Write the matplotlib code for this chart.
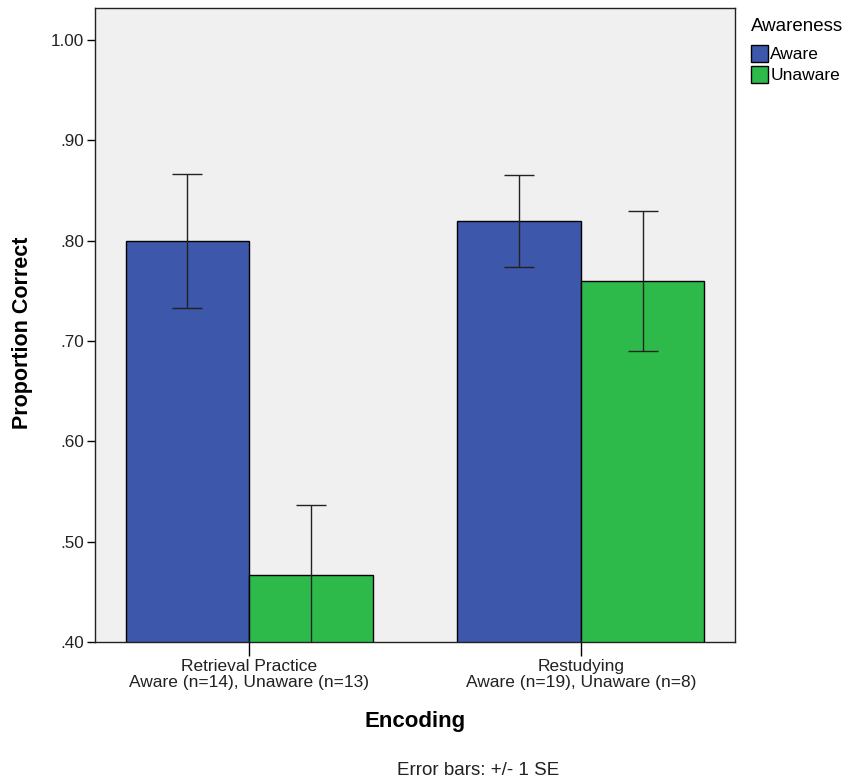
import matplotlib
matplotlib.use("Agg")
import matplotlib.pyplot as plt
import numpy as np
from matplotlib.patches import Patch

# Data
encoding = ["Retrieval Practice\nAware (n=14), Unaware (n=13)",
            "Restudying\nAware (n=19), Unaware (n=8)"]
groups = ["Aware", "Unaware"]
aware_mean = [0.800, 0.820]
aware_se = [0.067, 0.046]
unaware_mean = [0.467, 0.760]
unaware_se = [0.070, 0.070]
yticks = [0.40, 0.50, 0.60, 0.70, 0.80, 0.90, 1.00]
ytick_labels = [".40", ".50", ".60", ".70", ".80", ".90", "1.00"]

blue = "#3D57AB"
green = "#2DBA4B"
bg = "#F0F0F0"
ink = "#222222"

plt.rcParams["font.family"] = ["Liberation Sans", "DejaVu Sans"]

fig = plt.figure(figsize=(8.5, 7.8), dpi=100)
ax = fig.add_axes([0.1118, 0.1769, 0.7529, 0.8128])
ax.set_facecolor(bg)

x = np.arange(len(encoding))
w = 0.373
err_kw = dict(ecolor=ink, elinewidth=1.0, capthick=1.0)
ax.bar(x - w / 2, aware_mean, w, yerr=aware_se, capsize=11,
       color=blue, edgecolor="black", linewidth=1.0, error_kw=err_kw,
       label=groups[0], zorder=2)
ax.bar(x + w / 2, unaware_mean, w, yerr=unaware_se, capsize=11,
       color=green, edgecolor="black", linewidth=1.0, error_kw=err_kw,
       label=groups[1], zorder=2)

ax.set_ylim(0.40, 1.032)
ax.set_xlim(-0.465, 1.465)
ax.set_yticks(yticks)
ax.set_yticklabels(ytick_labels, fontsize=12.3, color=ink)
ax.set_xticks(x)
ax.set_xticklabels(encoding, fontsize=12.5, color=ink, linespacing=1.12)
ax.tick_params(axis="y", length=6, width=1, pad=2)
ax.tick_params(axis="x", length=10, width=1, pad=2)
for s in ax.spines.values():
    s.set_linewidth(1.0)
    s.set_color(ink)

ax.set_ylabel("Proportion Correct", fontsize=15.5, fontweight="bold",
              color="black", va="center")
ax.yaxis.set_label_coords(-0.114, 0.487)
ax.set_xlabel("Encoding", fontsize=16, fontweight="bold", color="black",
              va="center")
ax.xaxis.set_label_coords(0.5, -0.125)

handles = [Patch(facecolor=blue, edgecolor="black", label=groups[0]),
           Patch(facecolor=green, edgecolor="black", label=groups[1])]
leg = ax.legend(handles=handles, title="Awareness", loc="upper left",
                bbox_to_anchor=(1.009, 1.0), frameon=False, fontsize=12.5,
                title_fontsize=13.5, handlelength=0.95, handleheight=1.1,
                handletextpad=0.15, labelspacing=0.2, alignment="left",
                borderaxespad=0.3, borderpad=0.3)
leg._legend_box.sep = 7

fig.text(0.562, 0.0128, "Error bars: +/- 1 SE", ha="center", va="center",
         fontsize=13.5, color=ink)

fig.savefig("out.png", dpi=100, facecolor="white")
